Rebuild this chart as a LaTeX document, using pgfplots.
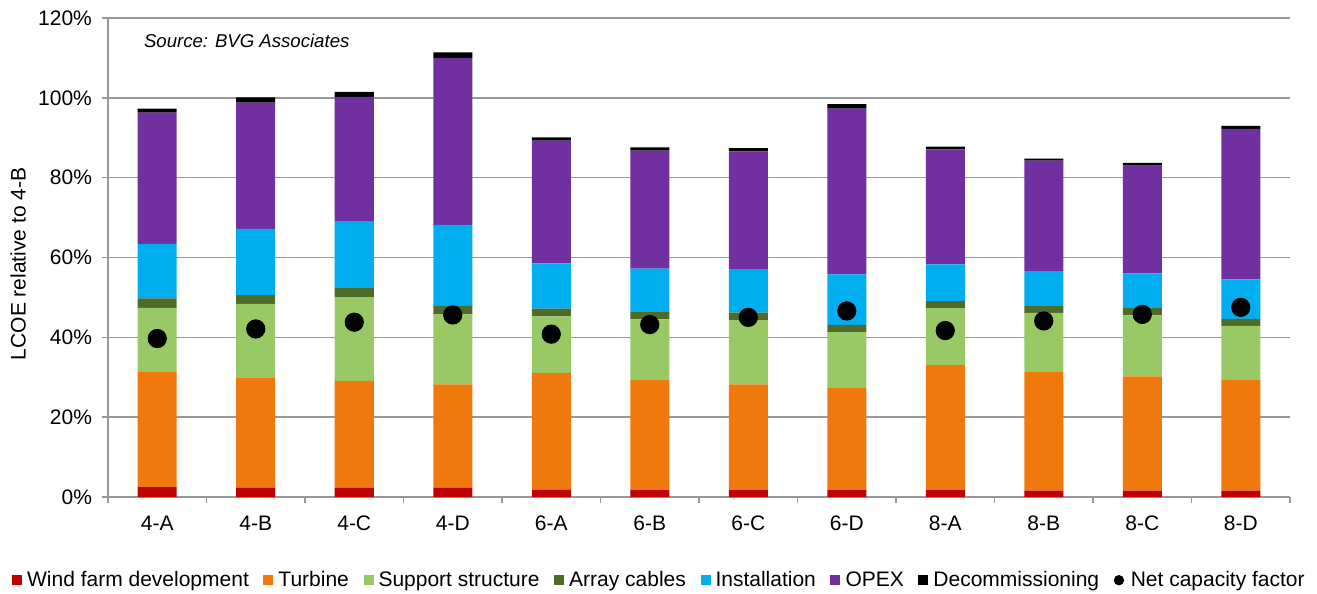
\documentclass[border=0pt]{standalone}
\usepackage{pgfplots}
\pgfplotsset{compat=1.18}
\usepackage{pgfplotstable}
\usepackage{fontspec}
\setmainfont{Liberation Sans}
\definecolor{cRed}{HTML}{C00000}
\definecolor{cOrange}{HTML}{F0790D}
\definecolor{cLGreen}{HTML}{98C965}
\definecolor{cDGreen}{HTML}{4E6C28}
\definecolor{cBlue}{HTML}{00ADEE}
\definecolor{cPurple}{HTML}{7030A0}
\definecolor{gridgray}{HTML}{989898}
\pgfplotstableread{
x red orange lg dg blue purple black dot
0 2.5 29.0 15.9 2.35 13.65 32.9 1.0 39.7
1 2.3 27.45 18.65 2.2 16.6 31.6 1.3 42.1
2 2.3 26.8 21.0 2.2 16.8 31.15 1.25 43.8
3 2.3 25.9 17.55 2.15 20.3 41.8 1.4 45.6
4 1.8 29.3 14.15 1.95 11.3 30.8 0.8 40.8
5 1.75 27.55 15.2 1.8 10.9 29.55 0.85 43.2
6 1.75 26.45 16.1 1.9 10.9 29.5 0.8 45.0
7 1.75 25.5 14.05 1.8 12.7 41.5 1.1 46.6
8 1.75 31.35 14.2 1.8 9.2 28.8 0.65 41.7
9 1.6 29.7 14.8 1.7 8.8 27.65 0.55 44.1
10 1.6 28.6 15.3 1.8 8.7 27.0 0.7 45.75
11 1.6 27.65 13.65 1.7 9.9 37.7 0.8 47.5
}\data
\begin{document}
\begin{tikzpicture}
\begin{axis}[
  scale only axis, width=591pt, height=239.5pt,
  at={(0,0)}, anchor=south west,
  ybar stacked, bar width=19.5pt,
  xmin=-0.5, xmax=11.5, ymin=0, ymax=120,
  enlarge x limits=false, enlarge y limits=false,
  xtick={0,...,11},
  xticklabels={4-A,4-B,4-C,4-D,6-A,6-B,6-C,6-D,8-A,8-B,8-C,8-D},
  minor xtick={-0.5,0.5,...,11.5},
  ytick={0,20,...,120},
  yticklabel={\pgfmathprintnumber{\tick}\%},
  /pgf/number format/assume math mode=true,
  axis lines*=left,
  axis line style={draw=gridgray, line width=0.75pt, -},
  ymajorgrids, grid style={gridgray, line width=0.75pt},
  tick align=outside,
  major tick length=3pt, minor tick length=3pt,
  major x tick style={draw=none},
  minor x tick style={draw=gridgray, line width=0.75pt},
  ytick style={draw=gridgray, line width=0.75pt},
  ticklabel style={font=\fontsize{10.5}{12}\selectfont},
  yticklabel style={xshift=-1.5pt},
  xticklabel style={yshift=-3pt},
  ylabel={LCOE relative to 4-B},
  ylabel style={font=\fontsize{10.5}{12}\selectfont, at={(axis description cs:-0.0761,0.487)}, anchor=center},
  legend columns=-1,
  legend style={draw=none, fill=none, font=\fontsize{10.5}{12}\selectfont,
    at={(0.4665,-0.175)}, anchor=center,
    nodes={inner xsep=1pt, inner ysep=1pt},
    /tikz/every even column/.append style={column sep=6.3pt}},
  legend image code/.code={\fill[#1] (0pt,-2.2pt) rectangle (5pt,2.8pt); \path[draw=none,fill=none] (0pt,0pt) -- (6.5pt,0pt);},
]
\addplot[fill=cRed, draw=none] table[x=x,y=red]{\data};
\addlegendentry{Wind farm development}
\addplot[fill=cOrange, draw=none] table[x=x,y=orange]{\data};
\addlegendentry{Turbine}
\addplot[fill=cLGreen, draw=none] table[x=x,y=lg]{\data};
\addlegendentry{Support structure}
\addplot[fill=cDGreen, draw=none] table[x=x,y=dg]{\data};
\addlegendentry{Array cables}
\addplot[fill=cBlue, draw=none] table[x=x,y=blue]{\data};
\addlegendentry{Installation}
\addplot[fill=cPurple, draw=none] table[x=x,y=purple]{\data};
\addlegendentry{OPEX}
\addplot[fill=black, draw=none] table[x=x,y=black]{\data};
\addlegendentry{Decommissioning}
\addlegendimage{draw=none, fill=black, legend image code/.code={\fill[black,draw=none] (2.6pt,0.3pt) circle (2.6pt); \path[draw=none,fill=none] (0pt,0pt) -- (7.5pt,0pt);}}
\addlegendentry{Net capacity factor}
\node[anchor=west, font=\fontsize{9.3}{11}\selectfont\itshape] at (axis description cs:0.0245,0.952) {Source: BVG Associates};
\end{axis}
\begin{axis}[
  scale only axis, width=591pt, height=239.5pt,
  at={(0,0)}, anchor=south west,
  xmin=-0.5, xmax=11.5, ymin=0, ymax=120, hide axis,
]
\addplot[only marks, mark=*, mark size=4.6pt, black] table[x=x,y=dot]{\data};
\end{axis}
\pgfresetboundingbox
\path (-54pt,-48.5pt) rectangle (604.5pt,248.5pt);
\end{tikzpicture}
\end{document}
